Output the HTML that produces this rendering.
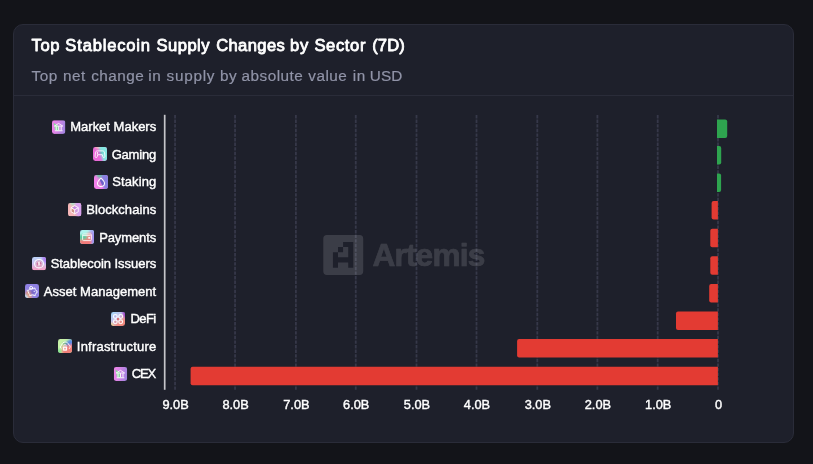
<!DOCTYPE html>
<html><head><meta charset="utf-8">
<style>
html,body{margin:0;padding:0;}
body{width:813px;height:464px;background:#131419;overflow:hidden;font-family:"Liberation Sans",sans-serif;position:relative;}
.card{position:absolute;left:13px;top:24px;width:779px;height:417px;background:#1e202b;border:1px solid #2a2c39;border-radius:10px;}
.title{position:absolute;left:32px;top:35px;font-size:16px;font-weight:bold;color:#fff;white-space:nowrap;line-height:20px;letter-spacing:0.37px;}
.sub{position:absolute;left:32px;top:65px;font-size:15px;color:#8f93a8;white-space:nowrap;line-height:20px;letter-spacing:0.62px;-webkit-text-stroke:0.2px #8f93a8;}
.hr{position:absolute;left:14px;top:95px;width:779px;height:1px;background:#2a2c39;}
svg{position:absolute;left:0;top:0;}
</style></head><body>
<div class="card"></div>
<div class="hr"></div>
<svg width="813" height="464" viewBox="0 0 813 464" font-family="Liberation Sans, sans-serif">
<defs>
<filter id="b1" x="-50%" y="-50%" width="200%" height="200%"><feGaussianBlur stdDeviation="0.9"/></filter>
<filter id="b05" x="-50%" y="-50%" width="200%" height="200%"><feGaussianBlur stdDeviation="0.45"/></filter>
<linearGradient id="gBank" x1="0" y1="0" x2="1" y2="0.15"><stop offset="0" stop-color="#f184ea"/><stop offset="0.45" stop-color="#d884e6"/><stop offset="1" stop-color="#a484e0"/></linearGradient>
<clipPath id="dropClip"><path d="M7,3.1C7,3.1 3.6,6.3 3.6,8.4a3.4,3.3 0 0 0 6.8,0C10.4,6.3 7,3.1 7,3.1z"/></clipPath>
<clipPath id="icClip"><rect width="14" height="14" rx="2.4"/></clipPath>
</defs>
<text x="31.6" y="51.1" font-size="16.6" fill="#fff" stroke="#fff" stroke-width="0.8" stroke-linejoin="round" letter-spacing="0.6">Top <tspan letter-spacing="0.8">Stablecoin</tspan> <tspan dx="0.5" letter-spacing="0.43">Supply</tspan> <tspan dx="1" letter-spacing="0.39">Changes</tspan> <tspan dx="-0.5" letter-spacing="0.85">by</tspan> Sector <tspan dx="1" letter-spacing="0.1">(7D)</tspan></text>
<text x="31.6" y="80.8" font-size="15.3" fill="#9194a8" stroke="#9194a8" stroke-width="0.2" letter-spacing="0.49">Top <tspan dx="0.5">net</tspan> <tspan dx="0.7">change</tspan> <tspan dx="-0.7">in</tspan> <tspan dx="0.5" letter-spacing="0.76">supply</tspan> by <tspan dx="-0.4">absolute</tspan> <tspan dx="0.3">value</tspan> <tspan dx="0.7">in</tspan> <tspan dx="-0.7" letter-spacing="0.1">USD</tspan></text>
<g stroke="#363849" stroke-width="1.8" stroke-dasharray="3.4 1.2">
<line x1="175.05" y1="115" x2="175.05" y2="390"/>
<line x1="235.05" y1="115" x2="235.05" y2="390"/>
<line x1="295.9" y1="115" x2="295.9" y2="390"/>
<line x1="355.75" y1="115" x2="355.75" y2="390"/>
<line x1="416.5" y1="115" x2="416.5" y2="390"/>
<line x1="476.5" y1="115" x2="476.5" y2="390"/>
<line x1="537.3" y1="115" x2="537.3" y2="390"/>
<line x1="597.4" y1="115" x2="597.4" y2="390"/>
<line x1="657.7" y1="115" x2="657.7" y2="390"/>
<line x1="718.0" y1="115" x2="718.0" y2="390"/>
</g>
<g fill="#ffffff" opacity="0.13">
<path fill-rule="evenodd" d="M327,235h32.5a3.7,3.7 0 0 1 3.7,3.7v32.6a3.7,3.7 0 0 1 -3.7,3.7h-32.5a3.7,3.7 0 0 1 -3.7,-3.7v-32.6a3.7,3.7 0 0 1 3.7,-3.7z M343.1,241.9v5.15h-5.1v5.15h-5.1v15.6h5.1v-5.3h10.2v5.3h5.1v-25.9z M343.1,247.05h5.1v10.3h-10.2v-5.15h5.1z"/>
<text x="372.4" y="265.9" font-size="31.6" font-weight="bold" letter-spacing="-0.8" stroke="#fff" stroke-width="0.7" stroke-linejoin="round">Artemis</text>
</g>
<rect x="163.85" y="114.8" width="1.7" height="275" fill="#c5c5ca"/>
<path fill="#2ea44f" d="M717.0,119.40h8.20a2,2 0 0 1 2,2v14.50a2,2 0 0 1 -2,2h-8.20z"/>
<path fill="#2ea44f" d="M717.0,145.90h2.20a2,2 0 0 1 2,2v14.50a2,2 0 0 1 -2,2h-2.20z"/>
<path fill="#2ea44f" d="M717.0,173.40h2.10a2,2 0 0 1 2,2v14.50a2,2 0 0 1 -2,2h-2.10z"/>
<path fill="#e33b33" d="M717.9,201.00h-4.30a2,2 0 0 0 -2,2v14.50a2,2 0 0 0 2,2h4.30z"/>
<path fill="#e33b33" d="M717.9,228.80h-5.60a2,2 0 0 0 -2,2v14.50a2,2 0 0 0 2,2h5.60z"/>
<path fill="#e33b33" d="M717.9,256.30h-5.60a2,2 0 0 0 -2,2v14.50a2,2 0 0 0 2,2h5.60z"/>
<path fill="#e33b33" d="M717.9,283.90h-6.70a2,2 0 0 0 -2,2v14.50a2,2 0 0 0 2,2h6.70z"/>
<path fill="#e33b33" d="M717.9,311.45h-39.90a2,2 0 0 0 -2,2v14.50a2,2 0 0 0 2,2h39.90z"/>
<path fill="#e33b33" d="M717.9,339.10h-198.80a2,2 0 0 0 -2,2v14.50a2,2 0 0 0 2,2h198.80z"/>
<path fill="#e33b33" d="M717.9,366.65h-525.30a2,2 0 0 0 -2,2v14.50a2,2 0 0 0 2,2h525.30z"/>
<g fill="#fff" stroke="#fff" stroke-width="0.4" font-size="13" text-anchor="end">
<text x="156.2" y="131.30" textLength="85.97" lengthAdjust="spacing">Market Makers</text>
<text x="156.2" y="158.75" textLength="44.53" lengthAdjust="spacing">Gaming</text>
<text x="156.2" y="186.20" textLength="43.88" lengthAdjust="spacing">Staking</text>
<text x="156.2" y="213.65" textLength="69.99" lengthAdjust="spacing">Blockchains</text>
<text x="156.2" y="242.10" textLength="57.01" lengthAdjust="spacing">Payments</text>
<text x="156.2" y="267.55" textLength="105.55" lengthAdjust="spacing">Stablecoin Issuers</text>
<text x="156.2" y="296.00" textLength="112.43" lengthAdjust="spacing">Asset Management</text>
<text x="156.2" y="323.45" textLength="25.75" lengthAdjust="spacing">DeFi</text>
<text x="156.2" y="350.90" textLength="79.39" lengthAdjust="spacing">Infrastructure</text>
<text x="156.2" y="378.35" textLength="24.53" lengthAdjust="spacing">CEX</text>
</g>
<g fill="#fff" stroke="#fff" stroke-width="0.4" font-size="12.8" text-anchor="middle">
<text x="175.6" y="408.8">9.0B</text>
<text x="235.6" y="408.8">8.0B</text>
<text x="296.4" y="408.8">7.0B</text>
<text x="356.2" y="408.8">6.0B</text>
<text x="417.0" y="408.8">5.0B</text>
<text x="477.0" y="408.8">4.0B</text>
<text x="537.8" y="408.8">3.0B</text>
<text x="597.9" y="408.8">2.0B</text>
<text x="658.2" y="408.8">1.0B</text>
<text x="718.5" y="408.8">0</text>
</g>
<g transform="translate(52,120.2) scale(0.9571,0.9786)"><g clip-path="url(#icClip)"><rect width="14" height="14" fill="url(#gBank)"/>
<g filter="url(#b05)"><polygon points="1.6,2.6 6.6,5.6 7.6,10.8 3.6,10.8" fill="#8ad9a0"/></g>
<g fill="none" stroke="#fff" stroke-width="0.9" stroke-linejoin="round" stroke-linecap="round" opacity="0.95">
<path d="M2.8,5.8 L6.9,3.3 L11,5.8 Z"/><path d="M4.4,6.6v3 M7,6.6v3 M9.6,6.6v3" stroke-width="1"/><path d="M3.4,10.7h7.2" stroke-width="1.1"/></g>
<circle cx="7" cy="4.9" r="0.55" fill="#b98ae0"/></g></g>
<g transform="translate(93,147) scale(1.0000,1.0000)"><g clip-path="url(#icClip)"><rect width="14" height="14" fill="#e96ad8"/>
<g filter="url(#b1)"><polygon points="5,-2 16,-2 16,16 10.5,16 8,8" fill="#86e8e2"/><polygon points="1.5,-1 6.5,-1 5,2.6" fill="#f3cfa6"/><polygon points="6,4.6 10.2,4.6 8.2,7.6" fill="#3fb3a4"/></g>
<path d="M4.4,3.9h5.2c1.3,0 1.9,0.8 2,2l0.3,3.1c0.1,1-0.4,1.6-1,1.6c-0.6,0-1-0.4-1.2-1.2l-0.4-1.7h-4.6l-0.4,1.7c-0.2,0.8-0.6,1.2-1.2,1.2c-0.6,0-1.1-0.6-1-1.6l0.3-3.1c0.1-1.2,0.7-2,2-2z" fill="none" stroke="#fff" stroke-width="0.9" stroke-linejoin="round" opacity="0.95"/>
<path d="M4.4,5v2.4" stroke="#fff" stroke-width="1" opacity="0.9"/></g></g>
<g transform="translate(94,175) scale(1.0000,1.0000)"><g clip-path="url(#icClip)"><rect width="14" height="14" fill="#f280ea"/>
<g filter="url(#b1)"><polygon points="6,-2 16,-2 16,16 10,16 9,9" fill="#8a80e0"/><polygon points="1,-1.5 9,-1.5 5.4,3.8" fill="#5cca98"/></g>
<g clip-path="url(#dropClip)"><g filter="url(#b05)"><rect x="3" y="3" width="8" height="9" fill="#d882d4"/><polygon points="4.3,2 12,2 12,12 9,12" fill="#6c5fc8"/></g></g>
<path d="M7,3.2C6.2,4 3.5,6.4 3.5,8.3a3.5,3.3 0 0 0 7,0C10.5,6.4 7.8,4 7,3.2z" fill="none" stroke="#fff" stroke-width="1.05" stroke-linejoin="round" opacity="0.95"/></g></g>
<g transform="translate(68,203) scale(0.9500,0.9500)"><g clip-path="url(#icClip)"><rect width="14" height="14" fill="#f6b6b8"/>
<g filter="url(#b1)"><polygon points="7,-2 16,-2 16,16 9.5,16 8,8" fill="#d9a2ef"/><polygon points="1,-1.5 8.5,-1.5 5.2,3.4" fill="#a2e9c6"/></g>
<g filter="url(#b05)"><polygon points="7,3.4 9.8,5 7,6.7 4.2,5" fill="#c088e0"/><polygon points="3.6,5.6 6.6,7.4 6.6,10.8 3.6,9" fill="#cf9486"/><polygon points="10.4,5.6 7.4,7.4 7.4,10.8 10.4,9" fill="#cf98e0"/></g>
<g fill="none" stroke="#fff" stroke-width="0.95" stroke-linejoin="round" opacity="0.95"><polygon points="7,2.7 10.8,4.9 10.8,9.2 7,11.4 3.2,9.2 3.2,4.9"/><path d="M3.2,4.9 L7,7.1 L10.8,4.9 M7,7.1V11.4"/></g></g></g>
<g transform="translate(80,230) scale(1.0000,1.0000)"><g clip-path="url(#icClip)"><rect width="14" height="14" fill="#aef4ee"/>
<g filter="url(#b1)"><polygon points="-1,5 7,4.5 7,10 -1,11" fill="#5ccaa0"/><polygon points="-2,10.5 8,9 16,9 16,16 -2,16" fill="#f27a7a"/><polygon points="7.5,3 12,2.5 12,10 6.5,10" fill="#f08484"/><polygon points="11.2,-2 16,-2 16,16 11.6,16" fill="#9a96f6"/><polygon points="9,-2 16,-2 16,2.2 10,2" fill="#a3a6f8"/><polygon points="-2,-2 2.5,-2 -2,3" fill="#a8b4f6"/></g>
<g fill="none" stroke="#fff" stroke-width="0.9" stroke-linejoin="round" opacity="0.9"><rect x="2.6" y="4" width="8.8" height="6.6" rx="1"/><path d="M3,5.6h7.6"/></g>
<rect x="8.2" y="7" width="2" height="1.8" rx="0.5" fill="#fff" opacity="0.9"/></g></g>
<g transform="translate(32,257) scale(1.0000,0.9500)"><g clip-path="url(#icClip)"><linearGradient id="gCoin" x1="0" y1="0" x2="0" y2="1"><stop offset="0" stop-color="#bcd3f9"/><stop offset="0.45" stop-color="#c8c4f2"/><stop offset="1" stop-color="#fa9fc4"/></linearGradient>
<rect width="14" height="14" fill="url(#gCoin)"/>
<g filter="url(#b1)"><polygon points="9.5,-2 16,-2 16,7 12,6" fill="#ad7cf0"/><circle cx="7" cy="7" r="3" fill="#cf6894"/></g>
<circle cx="7" cy="7" r="4.4" fill="none" stroke="#fff" stroke-width="1.15" opacity="0.97"/>
<circle cx="7" cy="7" r="2.9" fill="none" stroke="#fff" stroke-width="0.5" opacity="0.6"/>
<path d="M8,5.8c-0.3-0.5-1.9-0.6-1.9,0.3c0,0.9,1.9,0.6,1.9,1.6c0,0.9-1.7,0.8-2,0.2M7,4.9v4.2" fill="none" stroke="#fff" stroke-width="0.95" opacity="0.97"/></g></g>
<g transform="translate(25,284) scale(1.0000,1.0000)"><g clip-path="url(#icClip)"><rect width="14" height="14" fill="#8e80e2"/>
<g filter="url(#b1)"><polygon points="0.5,7.5 5.5,6.5 7,15 0.5,15" fill="#de9a86"/><polygon points="-2,10.5 2.2,11.5 3.5,16 -2,16" fill="#c2f0f7"/><ellipse cx="7.5" cy="8" rx="2.5" ry="1.6" fill="#6a58b8"/></g>
<g fill="none" stroke="#fff" stroke-width="0.95" stroke-linejoin="round" stroke-linecap="round" opacity="0.95"><circle cx="6.2" cy="3.9" r="1.5"/><path d="M2.2,6.2c0.3,1 0.6,1.2 1.2,1.6c0,1.2,0.6,2,1.3,2.6v1.2h1.6v-0.7h2.4v0.7h1.6v-1.4c0.5-0.4,0.8-0.9,1-1.4h0.7v-2h-0.7c-0.3-0.7-0.8-1.2-1.4-1.6l0.2-1.2c-0.7,0-1.3,0.3-1.7,0.7h-2.2c-1.6,0-2.8,0.9-3.1,2.2"/></g>
<circle cx="9.2" cy="7.3" r="0.6" fill="#fff"/></g></g>
<g transform="translate(111,312) scale(1.0000,1.0000)"><g clip-path="url(#icClip)"><linearGradient id="gDefi" x1="0.1" y1="0" x2="0.9" y2="1"><stop offset="0" stop-color="#a6d6f8"/><stop offset="0.4" stop-color="#c3c0ea"/><stop offset="0.75" stop-color="#f08e84"/><stop offset="1" stop-color="#f2867a"/></linearGradient>
<rect width="14" height="14" fill="url(#gDefi)"/>
<g filter="url(#b1)"><polygon points="11,-2 16,-2 16,6.5 13,5" fill="#9a38d0"/><polygon points="-2,10.5 1.5,11.5 3.5,16 -2,16" fill="#f7e58a"/></g>
<g fill="none" stroke="#fff" stroke-width="1.15" opacity="0.95"><circle cx="4.3" cy="4.4" r="1.9"/><circle cx="9.7" cy="4.4" r="1.9"/><circle cx="4.3" cy="9.8" r="1.9"/><circle cx="9.7" cy="9.8" r="1.9"/><path d="M5.6,5.7l2.8,2.8M8.4,5.7l-2.8,2.8" stroke-width="0.6"/></g>
<circle cx="7" cy="7.1" r="1.05" fill="#d45a60"/><g fill="#e88a92"><circle cx="4.3" cy="9.8" r="0.6"/><circle cx="9.7" cy="9.8" r="0.6"/></g><g fill="#c3a4e6"><circle cx="4.3" cy="4.6" r="0.7"/><circle cx="9.7" cy="4.6" r="0.7"/></g></g></g>
<g transform="translate(58,339) scale(1.0000,1.0000)"><g clip-path="url(#icClip)"><rect width="14" height="14" fill="#c7f1a8"/>
<g filter="url(#b1)"><polygon points="-2,10 2.5,10 4,16 -2,16" fill="#84e290"/><polygon points="5.5,6 9,2.5 14,-1 16,-2 16,8 9,7" fill="#5889e2"/><polygon points="4.5,7 9,6.5 16,5 16,16 4,16" fill="#f1807a"/><polygon points="5.5,4 8.5,3.6 8.5,5.5 5.5,6" fill="#3e9a6a"/></g>
<path d="M3.2,9.6c-1.2-0.6-1.2-3,0.5-3.4c0.2-2.2,2-3.2,3.5-3.2c1.8,0,3,1,3.4,2.6c1.6,0.2,2.2,2.6,0.8,4" fill="none" stroke="#fff" stroke-width="0.95" stroke-linecap="round" opacity="0.95"/>
<rect x="4.9" y="7.4" width="4.2" height="4.3" rx="0.8" fill="#fff" opacity="0.95"/><path d="M5.9,7.4v-0.8a1.1,1.1 0 0 1 2.2,0v0.8" fill="none" stroke="#fff" stroke-width="0.8"/><rect x="6.4" y="8.8" width="1.2" height="1.6" rx="0.5" fill="#e8787a"/></g></g>
<g transform="translate(113.8,367) scale(0.9571,1.0000)"><g clip-path="url(#icClip)"><rect width="14" height="14" fill="url(#gBank)"/>
<g filter="url(#b05)"><polygon points="1.6,2.6 6.6,5.6 7.6,10.8 3.6,10.8" fill="#8ad9a0"/></g>
<g fill="none" stroke="#fff" stroke-width="0.9" stroke-linejoin="round" stroke-linecap="round" opacity="0.95">
<path d="M2.8,5.8 L6.9,3.3 L11,5.8 Z"/><path d="M4.4,6.6v3 M7,6.6v3 M9.6,6.6v3" stroke-width="1"/><path d="M3.4,10.7h7.2" stroke-width="1.1"/></g>
<circle cx="7" cy="4.9" r="0.55" fill="#b98ae0"/></g></g>
</svg>
</body></html>
